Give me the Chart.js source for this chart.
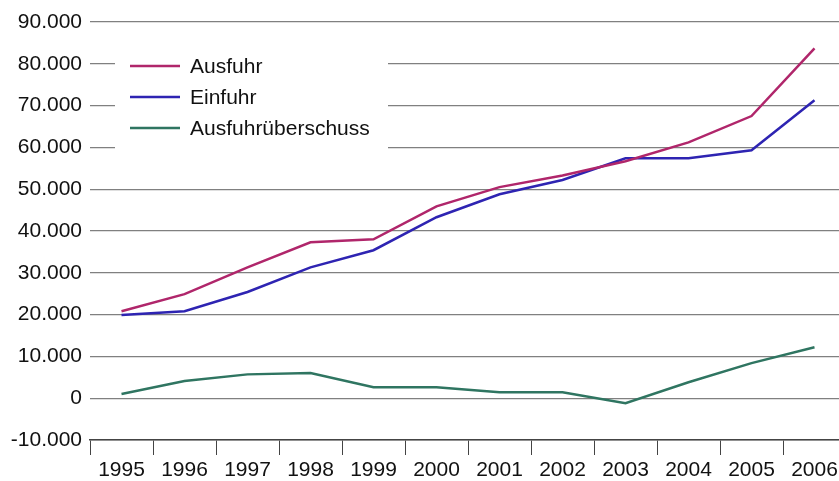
<!DOCTYPE html>
<html>
<head>
<meta charset="utf-8">
<script src="https://cdn.jsdelivr.net/npm/chart.js@4/dist/chart.umd.min.js"></script>
<style>
  html, body { margin: 0; padding: 0; background: #fff; overflow: hidden; }
  #wrap { width: 850px; height: 481px; }
</style>
</head>
<body>
<div id="wrap"><canvas id="myChart"></canvas></div>
<script>
let years = ['1995','1996','1997','1998','1999','2000','2001','2002','2003','2004','2005','2006'];
let ausfuhr = [20800, 24900, 31300, 37300, 38000, 45900, 50500, 53300, 56700, 61200, 67500, 83700];
let einfuhr = [19900, 20800, 25400, 31300, 35400, 43300, 48800, 52200, 57400, 57400, 59300, 71300];
let ueberschuss = [1000, 4100, 5700, 6000, 2600, 2600, 1400, 1400, -1200, 3800, 8400, 12200];
let seriesNames = ['Ausfuhr', 'Einfuhr', 'Ausfuhrüberschuss'];
let colorHex = ['#b0266b', '#2e24b2', '#2f7561'];

let fontFamily = '"Liberation Sans", Arial, sans-serif';

function formatDe(v) {
  let s = Math.abs(v).toString().replace(/\B(?=(\d{3})+(?!\d))/g, '.');
  return (v < 0 ? '-' : '') + s;
}

// legend drawn inside the plot, on a white box
let insideLegend = {
  id: 'insideLegend',
  afterDatasetsDraw(chart) {
    let c = chart.ctx;
    c.save();
    c.fillStyle = '#fff';
    c.fillRect(115, 42, 273, 108);
    chart.data.datasets.forEach((ds, i) => {
      let y = 66 + i * 31;
      c.strokeStyle = ds.borderColor;
      c.lineWidth = 2.5;
      c.beginPath();
      c.moveTo(130, y);
      c.lineTo(180, y);
      c.stroke();
      c.fillStyle = '#111';
      c.font = '21px ' + fontFamily;
      c.textBaseline = 'middle';
      c.fillText(ds.label, 190, y + 1);
    });
    c.restore();
  }
};

let ctx = document.getElementById('myChart').getContext('2d');
let myChart = new Chart(ctx, {
  type: 'line',
  data: {
    labels: years,
    datasets: [ausfuhr, einfuhr, ueberschuss].map((d, i) => ({
      label: seriesNames[i],
      data: d,
      borderColor: colorHex[i],
      backgroundColor: colorHex[i],
      borderWidth: 2.5,
      pointRadius: 0,
      tension: 0
    }))
  },
  options: {
    responsive: true,
    maintainAspectRatio: false,
    animation: false,
    layout: { padding: { top: 22, right: 4, left: 0, bottom: 0 } },
    plugins: {
      legend: { display: false },
      tooltip: { enabled: false }
    },
    scales: {
      x: {
        offset: true,
        afterFit: (s) => { s.height = 41; },
        grid: {
          offset: true,
          drawOnChartArea: false,
          tickLength: 15,
          color: '#444',
          lineWidth: 1
        },
        border: { display: true, color: '#444', width: 1.5 },
        ticks: {
          color: '#111',
          font: { family: fontFamily, size: 21 },
          padding: 3,
          maxRotation: 0,
          autoSkip: false
        }
      },
      y: {
        min: -10000,
        max: 90000,
        afterFit: (s) => { s.width = 90; },
        grid: {
          color: '#808080',
          lineWidth: 1.2,
          drawTicks: false
        },
        border: { display: false },
        ticks: {
          stepSize: 10000,
          padding: 8,
          color: '#111',
          font: { family: fontFamily, size: 21 },
          callback: (v) => formatDe(v)
        }
      }
    }
  },
  plugins: [insideLegend]
});
</script>
</body>
</html>
